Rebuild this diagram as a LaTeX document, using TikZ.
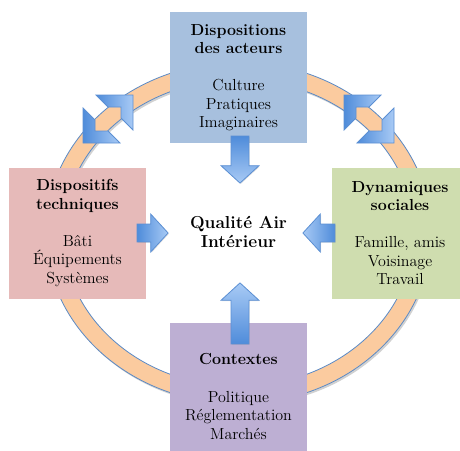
\documentclass[tikz,border=0pt]{standalone}
\usepackage{fontspec}
\usetikzlibrary{shapes.arrows, shadows}
\definecolor{box-top}{HTML}{A7C0DE}
\definecolor{box-left}{HTML}{E6BAB9}
\definecolor{box-right}{HTML}{CFDDAF}
\definecolor{box-bottom}{HTML}{BDAFD3}
\definecolor{ring-fill}{HTML}{FBCB9F}
\definecolor{ring-border}{HTML}{5A8AC6}
\definecolor{arrow-dark}{HTML}{4F8CDA}
\definecolor{arrow-light}{HTML}{A8CAF5}
\definecolor{arrow-border}{HTML}{5B8FD3}
\tikzset{
  box/.style={
    rectangle, inner sep=0pt, minimum width=102.75pt, minimum height=98.25pt,
    align=center, font=\fontsize{12}{13.9}\selectfont
  },
  centre-label/.style={align=center, font=\fontsize{13}{14.2}\selectfont\bfseries},
  bigarrow/.style={
    single arrow, draw=arrow-border, line width=0.6pt, inner sep=6.4pt,
    minimum width=27.75pt, single arrow head extend=7.5pt, single arrow tip angle=95,
    drop shadow={opacity=0.25, shadow xshift=0.6pt, shadow yshift=-0.6pt}
  },
  swaparrow/.style={
    draw=arrow-border, line width=0.6pt, line join=miter,
    left color=arrow-dark, right color=arrow-light
  },
  ringband/.style={draw=ring-border, line width=0.6pt, fill=ring-fill, even odd rule},
  ringshadow/.style={fill=black, opacity=0.18, even odd rule}
}

\begin{document}
\begin{tikzpicture}[x=0.75pt, y=-0.75pt]
  \useasboundingbox (0,0) rectangle (460,450);
  \clip (0,0) rectangle (460,450);

  % ---- Ring ----------------------------------------------------------------
  \fill[ringshadow] (240,235) ellipse [x radius=144.5pt, y radius=128pt]
                    (240,235) ellipse [x radius=131.5pt, y radius=115pt];
  \draw[ringband] (238.5,233) ellipse [x radius=144.5pt, y radius=128pt]
                  (238.5,233) ellipse [x radius=131.5pt, y radius=115pt];

  % ---- Boxes ---------------------------------------------------------------
  \node[box, fill=box-top] (acteurs) at (238.5,77.5)
        {\textbf{Dispositions}\\\textbf{des acteurs}\\[13.9pt]Culture\\Pratiques\\Imaginaires};
  \node[box, fill=box-left] (techniques) at (77.5,233)
        {\textbf{Dispositifs}\\\textbf{techniques}\\[13.9pt]Bâti\\Équipements\\Systèmes};
  \node[box, fill=box-right] (sociales) at (400,233)
        {\textbf{Dynamiques}\\\textbf{sociales}\\[13.9pt]Famille, amis\\Voisinage\\Travail};
  \node[box, fill=box-bottom, minimum height=110.25pt] (contextes) at (238.5,396.5)
        {\textbf{Contextes}\\[13.9pt]Politique\\Réglementation\\Marchés};

  \node[centre-label] (qai) at (238.5,232) {Qualité Air\\Intérieur};

  % ---- Block arrows towards the centre -------------------------------------
  \node[bigarrow, minimum height=35.25pt, shape border rotate=270,
        top color=arrow-dark, bottom color=arrow-light] (arr-top) at (240,155.5) {};
  \node[bigarrow, minimum height=23.25pt,
        left color=arrow-dark, right color=arrow-light] (arr-left) at (148.5,233) {};
  \node[bigarrow, minimum height=24pt, shape border rotate=180,
        left color=arrow-light, right color=arrow-dark] (arr-right) at (323,233) {};
  \node[bigarrow, minimum height=45.75pt, shape border rotate=90,
        top color=arrow-light, bottom color=arrow-dark] (arr-bottom) at (240,317.5) {};

  % ---- Corner arrows on the ring -------------------------------------------
  \draw[swaparrow] (96,95) -- (133,95) -- (133,130) -- (121,118) -- (121,107) -- (108,107) -- cycle;
  \draw[swaparrow] (120,143) -- (83,143) -- (83,108) -- (95,120) -- (95,131) -- (108,131) -- cycle;
  \draw[swaparrow] (381,95) -- (344,95) -- (344,130) -- (356,118) -- (356,107) -- (369,107) -- cycle;
  \draw[swaparrow] (357,143) -- (394,143) -- (394,108) -- (382,120) -- (382,131) -- (369,131) -- cycle;

\end{tikzpicture}
\end{document}
